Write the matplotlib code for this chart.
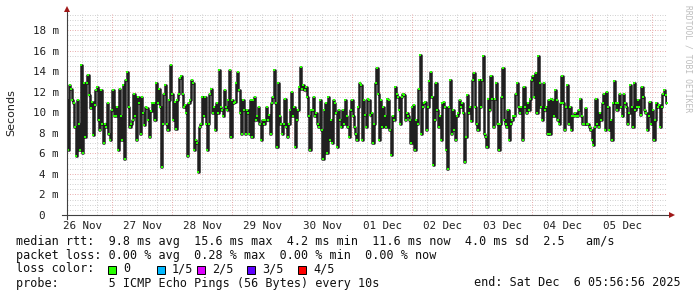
import numpy as np
import matplotlib
matplotlib.use("Agg")
import matplotlib.pyplot as plt
import matplotlib.dates as mdates
from datetime import datetime, timedelta

# median rtt (ms), read left to right, 26 Nov 05:57 -> 06 Dec 05:57
rtt_a = [11.2, 6.3, 12.6, 12.3, 11.2, 10.9, 8.6, 5.7, 11.2, 8.9, 6.3, 14.6, 6.0, 12.8, 7.6, 12.8,
         13.6, 11.7, 10.4, 11.0, 7.8, 10.7, 12.2, 12.5, 9.2, 8.3, 12.2, 8.9, 7.0, 8.9, 8.6, 10.9,
         7.9, 7.3, 10.2, 12.2, 9.6, 9.6, 10.5, 6.3, 12.3, 9.6, 7.3, 12.6, 5.4, 13.1, 13.9, 10.5,
         8.6, 8.9, 9.2, 11.8, 9.6, 7.3, 11.5, 10.9, 7.9, 11.5, 9.9, 8.8, 10.5, 10.4, 9.2, 7.6,
         10.1, 10.9, 10.9, 9.2, 12.8, 10.9, 12.3, 10.5, 4.7, 8.9, 11.8, 12.6, 8.9, 8.3, 11.2, 14.6,
         11.8, 9.2, 11.0, 8.4, 11.2, 11.8, 13.3, 13.5, 11.8, 10.5, 10.7, 9.9, 5.7, 10.9, 11.2, 13.1,
         12.8, 6.3, 7.3, 7.0, 4.2, 8.6, 8.9, 11.5, 9.6, 11.5, 8.9, 6.3, 8.9, 11.8, 12.3, 9.9,
         10.5, 8.3, 10.9, 9.9, 14.1, 10.5, 10.2, 9.6, 12.2, 10.5, 10.2, 11.2, 14.1, 7.6, 11.2, 10.9,
         11.0, 12.8, 13.9, 12.2, 9.9, 7.9, 11.2, 10.2, 7.9, 10.2, 9.9, 7.9, 11.2, 7.6, 11.2, 11.5,
         9.2, 9.6, 10.5, 8.9, 7.3, 9.2, 8.9, 9.2, 10.5, 9.2, 9.7, 7.9, 10.9, 11.5, 14.1, 10.9,
         6.6, 12.8, 9.6, 8.9, 7.9, 8.9, 11.3, 8.6, 7.6, 8.9, 10.2, 12.0, 9.6, 10.5, 6.6, 9.2,
         10.2, 12.5, 14.4, 12.3, 12.6, 12.2, 12.5, 11.5, 9.6, 6.3, 10.2, 10.2, 11.5, 9.6, 9.9, 8.9,
         8.6, 11.2, 8.3, 5.4, 10.2, 10.9, 6.0, 11.5, 7.3, 9.2, 7.0, 11.2, 10.9, 9.9, 6.6, 10.2,
         9.2, 8.6, 10.2, 8.9, 11.2, 9.6, 8.6, 7.6, 10.2, 11.2, 9.6, 8.6, 7.9, 7.3, 10.5, 12.8,
         12.6, 7.3, 11.2, 9.7, 8.6, 11.3, 11.2, 9.7]
rtt_b = [9.9, 7.0, 8.9, 12.8, 14.3, 11.8, 7.3, 11.2, 8.6, 10.5, 9.6, 8.6, 11.3, 11.2, 8.3, 5.8,
         9.6, 9.2, 12.5, 11.8, 11.5, 10.2, 8.9, 11.5, 11.8, 11.7, 9.2, 9.9, 9.6, 9.2, 7.0, 10.5,
         10.7, 6.3, 9.2, 8.9, 12.3, 15.6, 7.9, 10.5, 10.9, 11.0, 8.3, 10.5, 13.0, 13.9, 11.5, 4.9,
         9.2, 12.8, 10.2, 8.6, 9.6, 7.3, 10.9, 11.0, 10.5, 6.3, 4.5, 10.5, 13.1, 7.9, 10.2, 8.3,
         7.3, 9.6, 9.9, 11.2, 10.5, 10.9, 9.9, 5.2, 7.6, 11.7, 9.9, 10.5, 9.1, 13.1, 13.8, 10.5,
         8.9, 8.3, 13.1, 10.5, 13.1, 15.5, 7.9, 7.6, 6.6, 11.3, 10.2, 13.5, 11.3, 8.6, 11.3, 12.8,
         8.9, 6.3, 8.9, 11.5, 14.3, 9.2, 8.9, 8.6, 10.2, 7.3, 8.9, 9.2, 9.6, 9.6, 11.8, 12.8,
         10.5, 9.9, 10.5, 7.3, 12.5, 10.5, 9.9, 10.9, 10.2, 11.3, 13.1, 13.5, 11.5, 13.8, 9.9, 15.5,
         12.8, 10.5, 9.2, 12.8, 10.2, 10.5, 7.9, 11.2, 7.9, 11.3, 11.2, 9.6, 12.2, 11.2, 9.2, 8.9,
         10.9, 13.5, 10.9, 8.3, 10.5, 12.6, 8.9, 10.5, 8.3, 9.6, 9.6, 9.9, 9.6, 9.6, 10.2, 11.3,
         9.6, 8.9, 8.9, 10.4, 8.9, 8.9, 8.6, 8.3, 7.3, 6.8, 8.6, 11.3, 8.9, 8.6, 9.9, 9.2,
         10.9, 11.8, 8.3, 12.0, 10.5, 8.3, 9.2, 7.3, 10.9, 13.0, 10.9, 10.2, 10.9, 11.8, 10.5, 9.6,
         11.8, 10.9, 10.5, 8.9, 9.9, 12.6, 10.5, 8.6, 12.8, 10.2, 10.5, 11.2, 10.5, 9.7, 12.5, 11.5,
         10.2, 9.9, 8.3, 9.6, 11.0, 8.9, 10.2, 7.3, 9.2, 10.9, 10.5, 10.7, 8.6, 10.5, 11.8, 12.2,
         11.7, 10.9]

y_ticks = [0, 2, 4, 6, 8, 10, 12, 14, 16, 18]
y_labels = ["0  ", "2 m", "4 m", "6 m", "8 m", "10 m", "12 m", "14 m", "16 m", "18 m"]
day_labels = ["26 Nov", "27 Nov", "28 Nov", "29 Nov", "30 Nov",
              "01 Dec", "02 Dec", "03 Dec", "04 Dec", "05 Dec"]
loss_names = ["0", "1/5", "2/5", "3/5", "4/5"]
loss_colors = ["#26ff00", "#00b8ff", "#dd00ff", "#5e00ff", "#ff0000"]

t_start = datetime(2025, 11, 26, 5, 56, 56)
t_end = datetime(2025, 12, 6, 5, 56, 56)

W, H = 697, 297
MONO = "DejaVu Sans Mono"
fig = plt.figure(figsize=(W / 100, H / 100), dpi=100)
fig.patch.set_facecolor("white")
ax = fig.add_axes([67 / W, 1 - 215 / H, 600 / W, 202 / H])
ax.set_facecolor("white")

vals = np.array(rtt_a + rtt_b)
x0, x1 = mdates.date2num(t_start), mdates.date2num(t_end)
t = np.linspace(x0, x1, len(vals))
ax.set_xlim(x0, x1)
ax.set_ylim(0, 19.65)

# grid, rrdtool style (light dots)
dot = (0, (1, 1.5))
minor_c, major_c = "#d2d2d2", "#eab0b0"
for yv in np.arange(0.5, 19.6, 0.5):
    major = abs(yv % 2) < 1e-6
    ax.axhline(yv, color=major_c if major else minor_c, lw=0.72, ls=dot, zorder=1)
g = datetime(2025, 11, 26, 6)
while g < t_end:
    major = g.hour == 0
    ax.axvline(mdates.date2num(g), color=major_c if major else minor_c, lw=0.72, ls=dot, zorder=1)
    g += timedelta(hours=6)

# median line: dark verticals, green caps
ax.step(t, vals, where="mid", color="#202020", lw=1.8, zorder=3)
ax.plot(t, vals, ls="none", marker="s", ms=1.5, mew=0, color=loss_colors[0], zorder=4)

for s in ax.spines.values():
    s.set_visible(False)
ax.plot([-5 / 600, 1 + 5 / 600], [0, 0], transform=ax.transAxes, color="#404040", lw=0.8, clip_on=False, zorder=5)
ax.plot([0, 0], [-4 / 202, 1 + 3 / 202], transform=ax.transAxes, color="#404040", lw=0.8, clip_on=False, zorder=5)
ax.plot([1 + 5 / 600], [0], transform=ax.transAxes, marker=">", ms=4, mew=0, color="#a01818", clip_on=False, zorder=6)
ax.plot([0], [1 + 4 / 202], transform=ax.transAxes, marker="^", ms=4, mew=0, color="#a01818", clip_on=False, zorder=6)

ax.set_yticks(y_ticks)
ax.set_yticklabels(y_labels, family=MONO, fontsize=7.8, color="#202020")
noons = [mdates.date2num(datetime(2025, 11, 26, 12) + timedelta(days=i)) for i in range(len(day_labels))]
ax.set_xticks(noons)
ax.set_xticklabels(day_labels, family=MONO, fontsize=7.8, color="#202020")
ax.tick_params(axis="both", length=0)
ax.tick_params(axis="y", pad=6)
ax.tick_params(axis="x", pad=4)

fig.text(11 / W, 1 - 113 / H, "Seconds", rotation=90, ha="center", va="center", fontsize=8, color="#202020")
fig.text(688 / W, 1 - 5 / H, "RRDTOOL / TOBI OETIKER", rotation=270, ha="center", va="top",
         family=MONO, fontsize=5.8, color="#bdbdbd")


def ftext(x, y, s, **kw):
    fig.text(x / W, 1 - y / H, s, va="center", family=MONO, fontsize=8.5, color="#101010", **kw)


ftext(16, 242, "median rtt:  9.8 ms avg  15.6 ms max  4.2 ms min  11.6 ms now  4.0 ms sd  2.5   am/s")
ftext(16, 255, "packet loss: 0.00 % avg  0.28 % max  0.00 % min  0.00 % now")
ftext(16, 269, "loss color:")
box_x = [108, 157, 197, 247, 298]
for bx, name, col in zip(box_x, loss_names, loss_colors):
    fig.patches.append(plt.Rectangle((bx / W, 1 - 273.5 / H), 8 / W, 8 / H, transform=fig.transFigure,
                                     facecolor=col, edgecolor="#000000", lw=0.7))
    ftext(bx + 15, 269, name)
ftext(16, 283, "probe:       5 ICMP Echo Pings (56 Bytes) every 10s")
ftext(681, 283, "end: Sat Dec  6 05:56:56 2025", ha="right")

fig.savefig("out.png", dpi=100, facecolor="white")
